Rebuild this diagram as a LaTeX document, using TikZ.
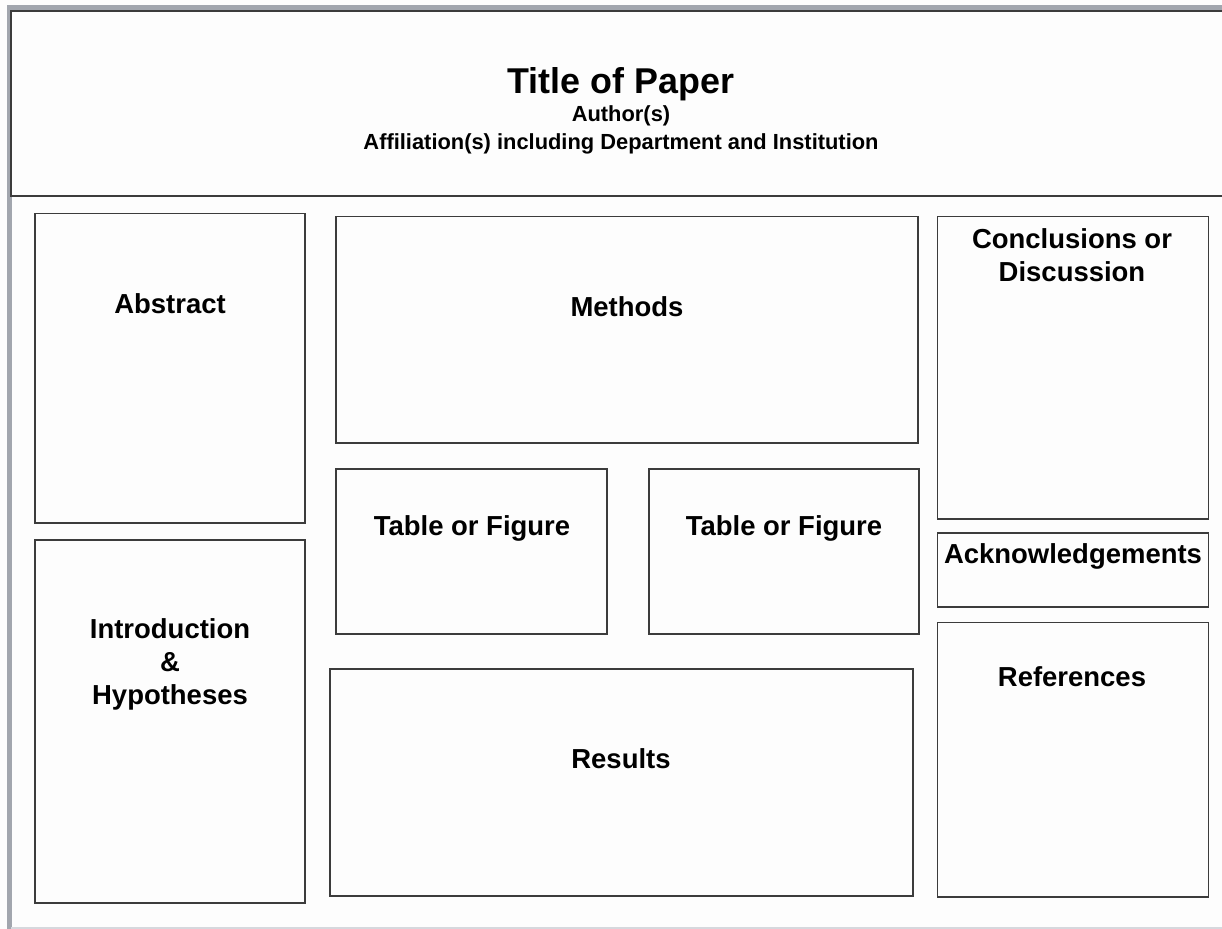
\documentclass[tikz,border=0pt]{standalone}
\usepackage{fontspec}
\setmainfont{Liberation Sans}
\usetikzlibrary{fit}
\definecolor{bg}{HTML}{FDFDFD}
\definecolor{frame}{HTML}{A2A6AE}
\definecolor{edge}{HTML}{3C3C3C}
\definecolor{lowline}{HTML}{D6D8DD}
\tikzset{
  panel/.style={draw=edge, line width=1.1pt, inner sep=0pt},
  label/.style={font=\bfseries\fontsize{20.6}{24.75}\selectfont, align=center, anchor=base, inner sep=0pt},
  head/.style={font=\bfseries\fontsize{26.9}{30}\selectfont, anchor=base, inner sep=0pt},
  sub/.style={font=\bfseries\fontsize{16.4}{20}\selectfont, anchor=base, inner sep=0pt}
}
\begin{document}
\begin{tikzpicture}[x=0.75pt, y=-0.75pt]
\useasboundingbox (0,0) rectangle (1222,929);
\clip (0,0) rectangle (1222,929);
\fill[bg] (0,0) rectangle (1222,929);
% outer frame
\fill[frame] (7,5) rectangle (1222,10);
\fill[frame] (7,5) rectangle (11.5,929);
\fill[lowline] (11,926.5) rectangle (1222,929);
% title banner
\node[draw=edge, line width=1.6pt, inner sep=0pt, fit={(10.8,10.8) (1230,196)}] (banner) {};
\node[head] (title) at (621,93) {Title of Paper};
\node[sub] (author) at (621,121) {Author(s)};
\node[sub] (affil) at (621,149) {Affiliation(s) including Department and Institution};
% panels
\node[panel, fit={(35,213.5) (305,523)}] (abstract) {};
\node[panel, fit={(35,540) (305,903)}] (intro) {};
\node[panel, fit={(336,216.5) (918,443)}] (methods) {};
\node[panel, fit={(336,469) (607,634)}] (tab1) {};
\node[panel, fit={(649,469) (919,634)}] (tab2) {};
\node[panel, fit={(330,669) (913,896)}] (results) {};
\node[panel, fit={(937.5,216.5) (1208.5,519)}] (concl) {};
\node[panel, fit={(937.5,533) (1208.5,607)}] (ack) {};
\node[panel, fit={(937.5,622.5) (1208.5,897)}] (refs) {};
% labels (multi-line labels: base = baseline of last line)
\node[label] (lababs) at (170,313) {Abstract};
\node[label] (labintro) at (170,704) {Introduction\\\&\\Hypotheses};
\node[label] (labmeth) at (627,316) {Methods};
\node[label] (labtab1) at (472,535) {Table or Figure};
\node[label] (labtab2) at (784,535) {Table or Figure};
\node[label] (labres) at (621,768) {Results};
\node[label] (labconcl) at (1072,281) {Conclusions or\\Discussion};
\node[label] (laback) at (1073,563) {Acknowledgements};
\node[label] (labrefs) at (1072,686) {References};
\end{tikzpicture}
\end{document}
